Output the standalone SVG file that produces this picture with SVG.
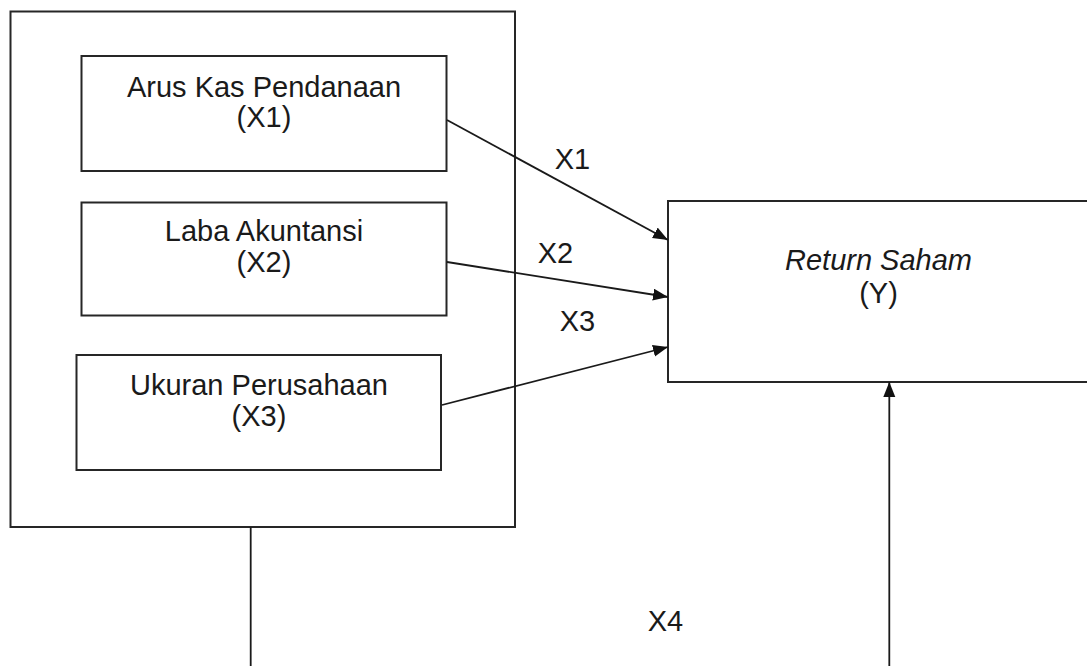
<svg xmlns="http://www.w3.org/2000/svg" width="1087" height="666" viewBox="0 0 1087 666">
<style>
.box{fill:#fff;stroke:#262626;stroke-width:2}
.t{font-family:"Liberation Sans",Arial,sans-serif;font-size:29px;fill:#1a1a1a;text-anchor:middle}
.i{font-style:italic}
.ln{stroke:#1a1a1a;stroke-width:1.8;fill:none}
</style>
<defs>
<marker id="ah" markerUnits="userSpaceOnUse" markerWidth="16" markerHeight="13" refX="15" refY="6" orient="auto">
<path d="M0,0 L15,6 L0,12 Z" fill="#111"/>
</marker>
</defs>
<rect width="1087" height="666" fill="#fff"/>
<g id="group-x">
<rect class="box" x="10.5" y="11.5" width="504.5" height="515.5"/>
</g>
<g id="node-x1">
<rect class="box" x="81.5" y="56" width="365" height="115"/>
<text class="t" x="264" y="96.5">Arus Kas Pendanaan</text>
<text class="t" x="264" y="127">(X1)</text>
</g>
<g id="node-x2">
<rect class="box" x="81.5" y="202.5" width="365" height="113"/>
<text class="t" x="264" y="241">Laba Akuntansi</text>
<text class="t" x="264" y="272">(X2)</text>
</g>
<g id="node-x3">
<rect class="box" x="76.5" y="355" width="364.5" height="115"/>
<text class="t" x="259" y="395">Ukuran Perusahaan</text>
<text class="t" x="259" y="426">(X3)</text>
</g>
<g id="node-y">
<rect class="box" x="668" y="201" width="440" height="181"/>
<text class="t i" x="878.5" y="270">Return Saham</text>
<text class="t" x="878.5" y="303">(Y)</text>
</g>
<g id="connectors">
<line class="ln" x1="447" y1="120" x2="668" y2="240" marker-end="url(#ah)"/>
<line class="ln" x1="447" y1="262" x2="668" y2="297" marker-end="url(#ah)"/>
<line class="ln" x1="442" y1="405" x2="668" y2="347" marker-end="url(#ah)"/>
<line class="ln" x1="250.7" y1="527" x2="250.7" y2="666"/>
<line class="ln" x1="889.3" y1="666" x2="889.3" y2="382" marker-end="url(#ah)"/>
<text class="t" x="572.5" y="169.3">X1</text>
<text class="t" x="555.5" y="262.7">X2</text>
<text class="t" x="577.5" y="330.7">X3</text>
<text class="t" x="665.5" y="630.7">X4</text>
</g>
</svg>
